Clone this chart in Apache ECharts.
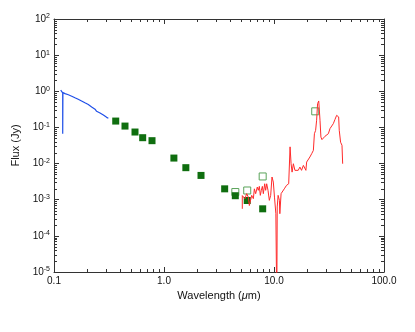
<!DOCTYPE html>
<html>
<head>
<meta charset="utf-8">
<script src="https://cdn.jsdelivr.net/npm/echarts@6/dist/echarts.min.js"></script>
<style>
  html, body { margin: 0; padding: 0; background: #fff; }
  #chart { width: 415px; height: 332px; }
</style>
</head>
<body>
<div id="chart"></div>
<script>
// UV spectrum (blue) [wavelength um, flux Jy]
var uvSpectrum = [
  [0.115, 1.07], [0.118, 0.96], [0.120, 0.90], [0.120, 0.067], [0.1205, 0.92],
  [0.1216, 0.93], [0.126, 0.86], [0.130, 0.83], [0.135, 0.80], [0.140, 0.74],
  [0.145, 0.73], [0.150, 0.67], [0.155, 0.66], [0.161, 0.61], [0.166, 0.60],
  [0.172, 0.56], [0.178, 0.54], [0.185, 0.50], [0.191, 0.48], [0.198, 0.45],
  [0.205, 0.43], [0.212, 0.40], [0.220, 0.37], [0.228, 0.33], [0.236, 0.32],
  [0.244, 0.28], [0.253, 0.27], [0.262, 0.25], [0.271, 0.24], [0.281, 0.22],
  [0.291, 0.21], [0.301, 0.19], [0.312, 0.18]
]
// IR spectrum (red)
var irSpectrum = [
  [5.15, 5.6e-4], [5.15, 1.3e-3], [5.26, 1.32e-3], [5.45, 1.07e-3], [5.64, 1.47e-3],
  [5.84, 1.18e-3], [5.97, 6.9e-4], [6.14, 6.3e-4], [6.27, 1.32e-3], [6.49, 1.07e-3],
  [6.63, 2.0e-3], [6.81, 1.47e-3], [7.05, 2.24e-3], [7.20, 1.82e-3], [7.36, 2.34e-3],
  [7.51, 1.32e-3], [7.67, 1.82e-3], [7.84, 2.34e-3], [8.00, 1.47e-3], [8.23, 2.76e-3],
  [8.40, 1.82e-3], [8.58, 2.76e-3], [8.82, 1.82e-3], [9.07, 9.6e-4], [9.33, 1.32e-3],
  [9.59, 4.25e-3], [9.86, 3.08e-3], [10.1, 1.18e-3], [10.4, 4.1e-4], [10.6, 1e-6],
  [10.7, 6.3e-4], [10.9, 1.32e-3], [11.2, 9.6e-4], [11.3, 4.1e-4], [11.6, 1.47e-3],
  [12.0, 1.32e-3], [12.4, 2.0e-3], [13.0, 2.5e-3], [13.6, 2.76e-3], [14.0, 0.029],
  [14.3, 0.0099], [14.6, 0.0058], [15.0, 0.0099], [15.5, 0.0065], [16.1, 0.0072],
  [16.6, 0.0065], [17.2, 0.0080], [17.8, 0.0065], [18.5, 0.0089], [19.1, 0.0099],
  [19.5, 0.0065], [19.8, 0.011], [20.5, 0.0123], [21.2, 0.0152], [22.0, 0.0187],
  [22.8, 0.0232], [23.3, 0.067], [23.9, 0.083], [24.4, 0.158], [24.9, 0.455],
  [25.5, 0.54], [25.8, 0.50], [26.2, 0.158], [26.7, 0.054], [27.3, 0.046],
  [28.1, 0.052], [29.1, 0.057], [30.1, 0.060], [31.2, 0.067], [32.3, 0.093],
  [33.4, 0.103], [34.6, 0.127], [35.8, 0.165], [37.1, 0.216], [37.9, 0.24],
  [38.7, 0.195], [39.2, 0.083], [40.3, 0.039], [41.5, 0.032], [42.1, 0.0099]
]
// photometry, filled squares
var photFilled = [
  [0.364, 0.150], [0.442, 0.109], [0.545, 0.0746], [0.640, 0.052], [0.778, 0.043],
  [1.23, 0.0142], [1.58, 0.0077], [2.17, 0.0047], [3.56, 0.0020], [4.45, 0.00129],
  [5.71, 0.00095], [7.89, 0.00056]
]
// photometry, open squares
var photOpen = [
  [4.45, 0.00163], [5.71, 0.0018], [7.89, 0.0044], [23.7, 0.279]
]
var xMinorTicks = [0.2, 0.3, 0.4, 0.5, 0.6, 0.7, 0.8, 0.9, 2, 3, 4, 5, 6, 7, 8, 9, 20, 30, 40, 50, 60, 70, 80, 90]
var yMinorTicks = []
;[1e-5, 1e-4, 1e-3, 1e-2, 1e-1, 1, 10].forEach(function (d) {
  for (var k = 2; k <= 9; k++) yMinorTicks.push(d * k)
})

var font = 'Liberation Sans, Arial, Helvetica, sans-serif'
var axisColor = '#333'

function tickSeries(vals, isX) {
  return {
    type: 'custom',
    silent: true,
    clip: false,
    z: 5,
    data: vals.map(function (v) { return isX ? [v, 1] : [1, v] }),
    renderItem: function (params, api) {
      var cs = params.coordSys
      var p = api.coord([api.value(0), api.value(1)])
      var st = { stroke: axisColor, lineWidth: 1 }
      var len = 3
      if (isX) {
        var x = Math.round(p[0]) + 0.5
        return { type: 'group', children: [
          { type: 'line', shape: { x1: x, y1: cs.y + cs.height, x2: x, y2: cs.y + cs.height - len }, style: st },
          { type: 'line', shape: { x1: x, y1: cs.y, x2: x, y2: cs.y + len }, style: st }
        ] }
      }
      var y = Math.round(p[1]) + 0.5
      return { type: 'group', children: [
        { type: 'line', shape: { x1: cs.x, y1: y, x2: cs.x + len, y2: y }, style: st },
        { type: 'line', shape: { x1: cs.x + cs.width, y1: y, x2: cs.x + cs.width - len, y2: y }, style: st }
      ] }
    }
  }
}

var axisCommon = {
  type: 'log',
  logBase: 10,
  axisLine: { show: true, lineStyle: { color: axisColor, width: 1 } },
  axisTick: { show: true, inside: true, length: 5, lineStyle: { color: axisColor } },
  splitLine: { show: false },
  minorTick: { show: false }
}

var option = {
  animation: false,
  backgroundColor: '#fff',
  grid: { left: 54, right: 31, top: 19, bottom: 60 },
  xAxis: [
    Object.assign({}, axisCommon, {
      min: 0.1, max: 100, splitNumber: 3, position: 'bottom',
      name: 'Wavelength ({i|μ}m)', nameLocation: 'middle', nameGap: 15,
      nameTextStyle: { fontFamily: font, fontSize: 11, color: '#111', rich: { i: { fontStyle: 'italic', fontFamily: font, fontSize: 11, color: '#111' } } },
      axisLabel: {
        margin: 4, fontFamily: font, fontSize: 10, color: '#111',
        formatter: function (v) { return v < 1 ? String(v) : v.toFixed(1) }
      }
    }),
    Object.assign({}, axisCommon, {
      min: 0.1, max: 100, splitNumber: 3, position: 'top',
      axisLabel: { show: false }
    })
  ],
  yAxis: [
    Object.assign({}, axisCommon, {
      min: 1e-5, max: 100, splitNumber: 7, position: 'left',
      name: 'Flux (Jy)', nameLocation: 'middle', nameGap: 29, nameRotate: 90,
      nameTextStyle: { fontFamily: font, fontSize: 11, color: '#111' },
      axisLabel: {
        margin: 4, fontFamily: font, color: '#111',
        formatter: function (v) {
          var e = Math.round(Math.log10(v))
          return '{b|10}{s|' + e + '}'
        },
        rich: {
          b: { fontFamily: font, fontSize: 10, color: '#111' },
          s: { fontFamily: font, fontSize: 7, color: '#111', verticalAlign: 'top', padding: [0, 0, 5, 0] }
        }
      }
    }),
    Object.assign({}, axisCommon, {
      min: 1e-5, max: 100, splitNumber: 7, position: 'right',
      axisLabel: { show: false }
    })
  ],
  series: [
    {
      name: 'UV', type: 'line', data: uvSpectrum, showSymbol: false,
      lineStyle: { color: '#1f4fe8', width: 1.2 }
    },
    {
      name: 'IR', type: 'line', data: irSpectrum, showSymbol: false,
      lineStyle: { color: '#ff2a2a', width: 1 }
    },
    {
      name: 'open', type: 'scatter', data: photOpen, symbol: 'rect', symbolSize: 7,
      itemStyle: { color: 'rgba(255,255,255,0)', borderColor: '#5aa35a', borderWidth: 1, opacity: 1 }
    },
    {
      name: 'filled', type: 'scatter', data: photFilled, symbol: 'rect', symbolSize: 7,
      itemStyle: { color: '#0f6e0f', opacity: 1 }
    },
    tickSeries(xMinorTicks, true),
    tickSeries(yMinorTicks, false)
  ]
}

var myChart = echarts.init(document.getElementById('chart'))
myChart.setOption(option)
</script>
</body>
</html>
